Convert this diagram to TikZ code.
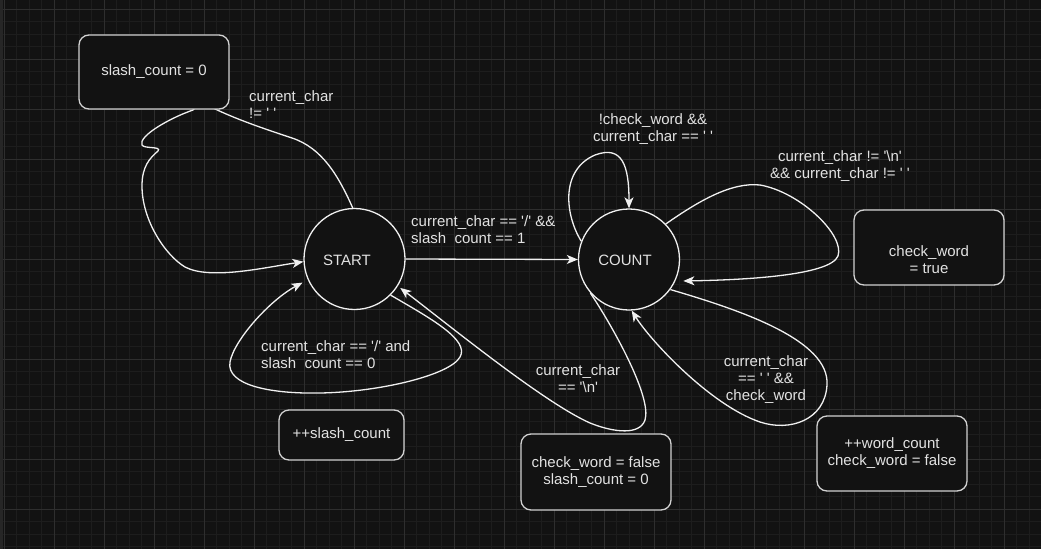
\documentclass[tikz,border=0pt]{standalone}
\usepackage{fontspec}
\setmainfont{Liberation Sans}[Ligatures=TeXOff]
\usetikzlibrary{arrows.meta}
\definecolor{bg}{HTML}{121212}
\definecolor{gminor}{HTML}{1D1D1D}
\definecolor{gmajor}{HTML}{2E2E2E}
\definecolor{ink}{HTML}{F0F0F0}
\definecolor{txtc}{HTML}{E2E2E2}
\definecolor{boxline}{HTML}{D2D2D2}
\definecolor{edgestrip}{HTML}{262626}
\begin{document}
\begin{tikzpicture}[x=1pt,y=-1pt,
  every node/.style={font=\fontsize{15pt}{17pt}\selectfont, text=txtc},
  state/.style={circle, draw=ink, fill=bg, line width=1.3pt, minimum size=101pt, inner sep=0pt},
  actbox/.style={draw=boxline, fill=bg, rounded corners=10pt, line width=1.3pt, inner sep=0pt, minimum width=150pt, minimum height=75pt},
  lbl/.style={inner sep=0pt},
  conn/.style={draw=ink, line width=1.3pt, -{Stealth[length=11pt,width=9pt,inset=3pt]}},
  minorline/.style={draw=gminor, line width=0.8pt},
  majorline/.style={draw=gmajor, line width=0.9pt}
]
% background and grid
\fill[bg] (0,0) rectangle (1041,549);
\useasboundingbox (0,0) rectangle (1041,549);
\foreach \i in {0,...,83} \draw[minorline] ({4+12.5*\i},0) -- ({4+12.5*\i},549);
\foreach \i in {0,...,43} \draw[minorline] (0,{9+12.5*\i}) -- (1041,{9+12.5*\i});
\foreach \i in {0,...,20} \draw[majorline] ({4+50*\i},0) -- ({4+50*\i},549);
\foreach \i in {0,...,10} \draw[majorline] (0,{9+50*\i}) -- (1041,{9+50*\i});
\fill[edgestrip] (0,0) rectangle (3,549);

% states
\node[state] (start) at (354.5,259) {};
\node[state] (count) at (629,259.5) {};
\node[lbl] (starttxt) at (347,260) {START};
\node[lbl] (counttxt) at (625,260) {COUNT};

% connectors
\draw[conn] (start.92) .. controls (338,175) and (322,148) .. (292,138)
  .. controls (262,128) and (232,118) .. (205,104)
  .. controls (200,104) and (196,106) .. (193,110)
  .. controls (170,118) and (138,136) .. (142,145)
  .. controls (144,149) and (162,146) .. (158,151)
  .. controls (150,158) and (142,166) .. (142,186)
  .. controls (142,220) and (165,255) .. (185,267)
  .. controls (210,280) and (262,268) .. (start.183);

\draw[conn] (start.east) -- (count.west);

\draw[conn] (count.159) .. controls (565,215) and (560,170) .. (595,155)
  .. controls (622,145) and (629,165) .. (count.90);

\draw[conn, shorten >=8pt] (count.44) .. controls (700,200) and (732,182) .. (760,185)
  .. controls (800,192) and (845,235) .. (838,256)
  .. controls (830,276) and (740,280) .. (count.335);

\draw[conn, shorten >=3pt] (count.221) .. controls (615,330) and (652,398) .. (645,420)
  .. controls (640,435) and (615,433) .. (590,423)
  .. controls (545,403) and (455,330) .. (start.328);

\draw[conn, shorten >=6pt] (start.315) .. controls (430,318) and (470,340) .. (460,357)
  .. controls (450,375) and (380,392) .. (320,393)
  .. controls (270,394) and (226,385) .. (230,362)
  .. controls (234,340) and (270,300) .. (start.204);

\draw[conn] (count.324) .. controls (740,310) and (830,340) .. (827,385)
  .. controls (825,420) and (790,432) .. (760,422)
  .. controls (710,405) and (650,340) .. (count.273);

% action boxes
\node[actbox, minimum height=74pt] (b1) at (154,72) {slash\_count = 0};
\node[actbox, minimum width=125pt, minimum height=50pt] (b2) at (341.5,435) {++slash\_count};
\node[actbox, minimum height=76pt, align=center] (b3) at (596,472) {check\_word = false\\slash\_count = 0};
\node[actbox] (b4) at (929,247.5) {};
\node[lbl, align=center] (b4txt) at (929,259.5) {check\_word\\= true};
\node[actbox, align=center] (b5) at (892,453.5) {++word\_count\\check\_word = false};

% connector labels
\node[lbl, anchor=west, align=left] (l1) at (249,105) {current\_char\\!= ' '};
\node[lbl, anchor=west, align=left] (l2) at (411,229.5) {current\_char == '/' \&\&\\slash\ \ count == 1};
\node[lbl, align=center] (l3) at (653,129) {!check\_word \&\&\\current\_char == ' '};
\node[lbl, align=center] (l4) at (840,166) {current\_char != '\textbackslash n'\\\&\& current\_char != ' '};
\node[lbl, anchor=west, align=left] (l5) at (261,355) {current\_char == '/' and\\slash\ \ count == 0};
\node[lbl, align=center] (l6) at (578,379) {current\_char\\== '\textbackslash n'};
\node[lbl, align=center] (l7) at (766,380) {current\_char\\== ' ' \&\&\\check\_word};
\end{tikzpicture}
\end{document}
